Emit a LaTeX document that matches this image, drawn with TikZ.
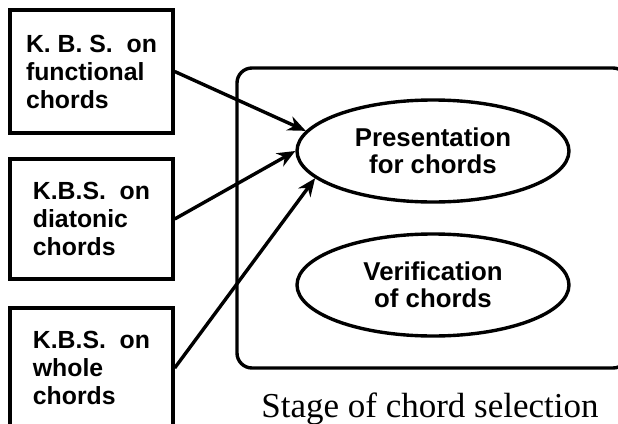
\documentclass[tikz,border=0pt]{standalone}
\usepackage{fontspec}
\setmainfont{Liberation Serif}
\setsansfont{Liberation Sans}
\usetikzlibrary{shapes,arrows.meta,positioning}
\tikzset{
	kbs/.style={draw, line width=1.7pt, minimum width=81.5pt, minimum height=61.5pt, align=left, inner sep=0pt, font=\sffamily\bfseries\fontsize{12.4}{14}\selectfont},
	task/.style={ellipse, draw, line width=1.7pt, minimum width=136pt, minimum height=51pt, inner sep=0pt, align=center, font=\sffamily\bfseries\fontsize{12.9}{13.5}\selectfont},
	feed/.style={->,>={Stealth[width=7.5pt,length=9pt]}, line width=1.7pt},
	caption/.style={font=\fontsize{17.5}{19}\selectfont, inner sep=0pt}
}
\begin{document}
\begin{tikzpicture}[x=0.5pt, y=-0.5pt]
		\useasboundingbox (0, 0) rectangle (618, 424);

		\draw [line width=1.7pt, rounded corners=7.5pt] (237, 68) rectangle (628, 368);

		\node [kbs] (functional) at (91.5, 71.5) {K. B. S.\ \ on\\functional\\chords};
		\node [kbs, minimum height=60pt] (diatonic) at (91.5, 219) {K.B.S.\ \ on\\diatonic\\chords};
		\node [kbs, minimum height=60pt] (whole) at (91.5, 368) {K.B.S.\ \ on\\whole\\chords};

		\node [task] (presentation) at (433, 151) {Presentation\\for chords};
		\node [task] (verification) at (433, 285) {Verification\\of chords};

		\node [caption, anchor=base] (stage) at (430, 417) {Stage of chord selection};

		\draw [feed] (functional.east) to (presentation.171);
		\draw [feed] (diatonic.east) to (presentation.west);
		\draw [feed] (whole.east) to (presentation.193);
\end{tikzpicture}
\end{document}
